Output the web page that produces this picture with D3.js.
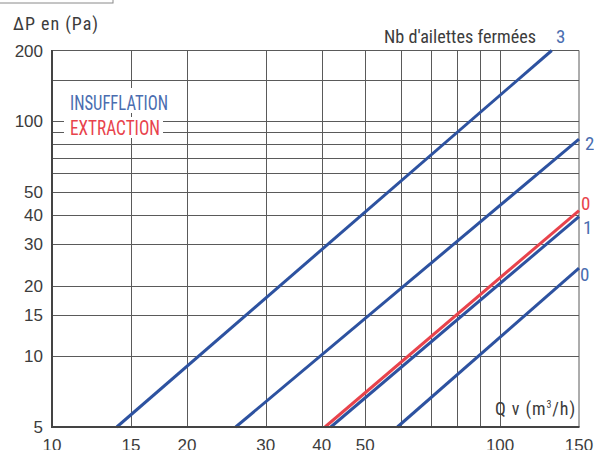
<!DOCTYPE html>
<html><head><meta charset="utf-8">
<script src="https://cdn.jsdelivr.net/npm/d3@7"></script>
<style>
html,body{margin:0;padding:0;background:#fff;}
svg{display:block;}
text{font-family:"Liberation Sans Narrow","Roboto Condensed","Liberation Sans",Arial,sans-serif;}
text.tick{font-family:"Liberation Sans",Arial,sans-serif;}
</style></head>
<body>
<div id="chart"></div>
<script>
// ---- data ----
const xTicks = [10, 15, 20, 30, 40, 50, 100, 150];
const xGrid = [15, 20, 30, 40, 50, 60, 70, 80, 90, 100];
const yTicks = [5, 10, 15, 20, 30, 40, 50, 100, 200];
const yGrid = [10, 15, 20, 30, 40, 50, 60, 70, 80, 90, 100, 150];
// Insufflation curves (Q in m3/h, dP in Pa), by number of closed fins
const insuff3 = [[13.95, 5], [130.4, 200]];
const insuff2 = [[25.7, 5], [150, 83.9]];
const insuff1 = [[41.9, 5], [150, 39.3]];
const insuff0 = [[59.0, 5], [150, 23.7]];
// Extraction curve
const extract0 = [[40.67, 5], [150, 41.7]];
const seriesLabels = ["3", "2", "1", "0", "0"];

const W = 594, H = 450;
const svg = d3.select("#chart").append("svg").attr("width", W).attr("height", H);

const x = d3.scaleLog().domain([10, 150]).range([52, 579]);
const y = d3.scaleLog().domain([5, 200]).range([427, 50.5]);

const gridCol = "#5a5a5a", txtCol = "#3c3c3c";
const blue = "#2d52a0", red = "#e8434c", lblBlue = "#4a6db0";

// top-left partial box
svg.append("rect").attr("x", -5).attr("y", -5).attr("width", 118).attr("height", 8)
  .attr("fill", "none").attr("stroke", "#8a8a8a").attr("stroke-width", 1);

// grid
const g = svg.append("g");
g.selectAll(".vg").data(xGrid).join("line")
  .attr("x1", d => Math.round(x(d)) + 0.5).attr("x2", d => Math.round(x(d)) + 0.5)
  .attr("y1", y(200)).attr("y2", y(5))
  .attr("stroke", gridCol).attr("stroke-width", 1);
g.selectAll(".hg").data(yGrid).join("line")
  .attr("y1", d => Math.round(y(d)) + 0.5).attr("y2", d => Math.round(y(d)) + 0.5)
  .attr("x1", x(10)).attr("x2", x(150))
  .attr("stroke", gridCol).attr("stroke-width", 1);
// frame top/right
g.append("line").attr("x1", x(10)).attr("x2", x(150)).attr("y1", y(200)).attr("y2", y(200))
  .attr("stroke", gridCol).attr("stroke-width", 1);
g.append("line").attr("x1", x(150)).attr("x2", x(150)).attr("y1", y(200)).attr("y2", y(5))
  .attr("stroke", gridCol).attr("stroke-width", 1);

// legend texts with white background
function boxText(tx, ty, bx, by, bw, bh, str, col, len) {
  svg.append("rect").attr("x", bx).attr("y", by).attr("width", bw).attr("height", bh).attr("fill", "#fff");
  svg.append("text").attr("x", tx).attr("y", ty).text(str).attr("fill", col)
    .attr("font-size", 20).attr("textLength", len).attr("lengthAdjust", "spacingAndGlyphs");
}
boxText(70, 110, 65, 88, 106, 25, "INSUFFLATION", lblBlue, 98);
boxText(70, 135, 64, 117, 99, 21, "EXTRACTION", red, 90);

// curves
const line = d3.line().x(d => x(d[0])).y(d => y(d[1]));
const curves = [
  {data: insuff3, col: blue},
  {data: insuff2, col: blue},
  {data: insuff1, col: blue},
  {data: insuff0, col: blue},
  {data: extract0, col: red}
];
svg.selectAll(".curve").data(curves).join("path")
  .attr("d", d => line(d.data)).attr("fill", "none")
  .attr("stroke", d => d.col).attr("stroke-width", 3);

// axes (left and bottom thick)
svg.append("line").attr("x1", x(10)).attr("x2", x(10)).attr("y1", y(200) - 0.5).attr("y2", y(5) + 1)
  .attr("stroke", "#444").attr("stroke-width", 2);
svg.append("line").attr("x1", x(10) - 1).attr("x2", x(150) + 0.5).attr("y1", y(5)).attr("y2", y(5))
  .attr("stroke", "#444").attr("stroke-width", 2);

// tick labels
svg.selectAll(".yl").data(yTicks).join("text").attr("class", "tick")
  .attr("x", 43).attr("y", d => y(d)).attr("dy", "0.36em")
  .attr("text-anchor", "end").attr("font-size", 17).attr("fill", txtCol)
  .text(d => d);
svg.selectAll(".xl").data(xTicks).join("text").attr("class", "tick")
  .attr("x", d => x(d)).attr("y", 451)
  .attr("text-anchor", "middle").attr("font-size", 17).attr("fill", txtCol)
  .text(d => d);

// axis titles
svg.append("text").attr("x", 13).attr("y", 30).attr("font-size", 18).attr("fill", txtCol)
  .attr("textLength", 85).attr("lengthAdjust", "spacing").text("ΔP en (Pa)");
const qt = svg.append("text").attr("x", 495).attr("y", 415).attr("font-size", 18)
  .attr("letter-spacing", 0.9).attr("fill", txtCol);
qt.append("tspan").text("Q v (m");
qt.append("tspan").attr("dy", -7).attr("font-size", 10).text("3");
qt.append("tspan").attr("dy", 7).text("/h)");

svg.append("text").attr("x", 384).attr("y", 43).attr("font-size", 18).attr("fill", txtCol)
  .attr("textLength", 152).attr("lengthAdjust", "spacingAndGlyphs").text("Nb d'ailettes fermées");

// series labels
const lblPos = [
  {t: seriesLabels[0], x: 556, y: 43, c: lblBlue},
  {t: seriesLabels[1], x: 585, y: 150, c: lblBlue},
  {t: seriesLabels[2], x: 583, y: 234, c: lblBlue},
  {t: seriesLabels[3], x: 580, y: 281, c: lblBlue},
  {t: seriesLabels[4], x: 581, y: 210, c: red}
];
svg.selectAll(".sl").data(lblPos).join("text")
  .attr("x", d => d.x).attr("y", d => d.y).attr("font-size", 19)
  .attr("fill", d => d.c).text(d => d.t);
</script>
</body></html>
